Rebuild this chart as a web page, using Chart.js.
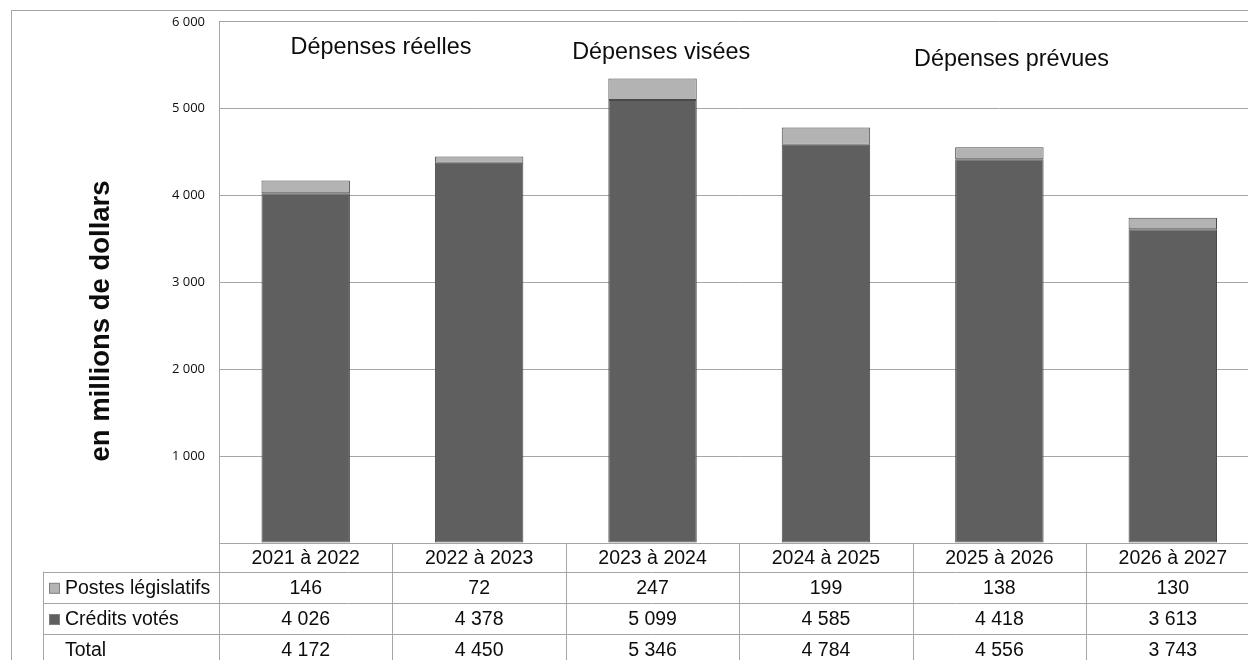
<!DOCTYPE html>
<html lang="fr">
<head>
<meta charset="utf-8">
<title>Dépenses</title>
<script src="https://cdn.jsdelivr.net/npm/chart.js@4"></script>
<style>
  html, body { margin: 0; padding: 0; background: #fff; overflow: hidden; }
  #wrap { position: relative; width: 1262px; height: 672px; }
</style>
</head>
<body>
<div id="wrap"><canvas id="chart"></canvas></div>
<script>
// --- data ---
const categories = ['2021 à 2022', '2022 à 2023', '2023 à 2024', '2024 à 2025', '2025 à 2026', '2026 à 2027'];
const postesLegislatifs = [146, 72, 247, 199, 138, 130];
const creditsVotes = [4026, 4378, 5099, 4585, 4418, 3613];
const totals = [4172, 4450, 5346, 4784, 4556, 3743];
const yTicks = [1000, 2000, 3000, 4000, 5000, 6000];
const periodLabels = ['Dépenses réelles', 'Dépenses visées', 'Dépenses prévues'];

// where the period labels sit (category units / data units)
const periodPos = [[0.434, 5631], [2.05, 5573], [4.07, 5493]];

const darkGrey = '#5f5f5f';
const lightGrey = '#b3b3b3';
const lineGrey = '#a6a6a6';
const textColor = '#0d0d0d';
const tableFont = '19.5px "Liberation Sans", Arial, sans-serif';

function fmt(n) {
    return String(n).replace(/\B(?=(\d{3})+(?!\d))/g, ' ');
}

// outer frame
const framePlugin = {
    id: 'frame',
    beforeDraw(chart) {
        const ctx = chart.ctx;
        ctx.save();
        ctx.strokeStyle = lineGrey;
        ctx.lineWidth = 1;
        ctx.strokeRect(11.5, 10.5, 1400, 1000);
        ctx.restore();
    }
};

// period labels, axis title and data table under the plot
const tablePlugin = {
    id: 'dataTable',
    afterDraw(chart) {
        const ctx = chart.ctx;
        const x = chart.scales.x;
        const y = chart.scales.y;
        const area = chart.chartArea;
        const colW = x.getPixelForValue(1) - x.getPixelForValue(0);
        const legendLeft = 43.5;
        const headerH = 28.7;
        const rowH = 31.2;
        const top = area.bottom;
        const rowTops = [top + headerH, top + headerH + rowH, top + headerH + 2 * rowH];
        const bottom = chart.height;

        ctx.save();

        // period labels
        ctx.fillStyle = textColor;
        ctx.font = '23.4px "Liberation Sans", Arial, sans-serif';
        ctx.textAlign = 'center';
        ctx.textBaseline = 'alphabetic';
        periodLabels.forEach((t, i) => {
            ctx.fillText(t, x.getPixelForValue(periodPos[i][0]), y.getPixelForValue(periodPos[i][1]));
        });

        // y axis title
        ctx.save();
        ctx.translate(101, 321);
        ctx.rotate(-Math.PI / 2);
        ctx.font = 'bold 27.5px "Liberation Sans", Arial, sans-serif';
        ctx.textBaseline = 'middle';
        ctx.fillText('en millions de dollars', 0, 0);
        ctx.restore();

        // grid of the table
        ctx.strokeStyle = lineGrey;
        ctx.lineWidth = 1;
        ctx.beginPath();
        ctx.moveTo(area.left, top + 0.5);
        ctx.lineTo(area.right, top + 0.5);
        rowTops.forEach(ry => {
            ctx.moveTo(legendLeft, Math.round(ry) + 0.5);
            ctx.lineTo(area.right, Math.round(ry) + 0.5);
        });
        ctx.moveTo(legendLeft, rowTops[0]);
        ctx.lineTo(legendLeft, bottom);
        for (let i = 0; i <= categories.length; i++) {
            const lx = Math.round(area.left + i * colW) + 0.5;
            ctx.moveTo(lx, top);
            ctx.lineTo(lx, bottom);
        }
        ctx.stroke();

        // header + values
        ctx.fillStyle = textColor;
        ctx.font = tableFont;
        ctx.textAlign = 'center';
        ctx.textBaseline = 'middle';
        const rows = [postesLegislatifs, creditsVotes, totals];
        categories.forEach((c, i) => {
            const cx = x.getPixelForValue(i);
            ctx.fillText(c, cx, top + headerH / 2 + 1);
            rows.forEach((r, j) => {
                ctx.fillText(fmt(r[i]), cx, rowTops[j] + rowH / 2 + 1);
            });
        });

        // legend column
        const names = ['Postes législatifs', 'Crédits votés', 'Total'];
        const swatches = [lightGrey, darkGrey, null];
        ctx.textAlign = 'left';
        names.forEach((n, j) => {
            const cy = rowTops[j] + rowH / 2 + 1;
            if (swatches[j]) {
                ctx.fillStyle = swatches[j];
                ctx.fillRect(49.5, cy - 5, 10, 10);
                ctx.strokeStyle = '#7f7f7f';
                ctx.strokeRect(49.5, cy - 5, 10, 10);
            }
            ctx.fillStyle = textColor;
            ctx.fillText(n, 65, cy);
        });

        ctx.restore();
    }
};

new Chart(document.getElementById('chart'), {
    type: 'bar',
    data: {
        labels: categories,
        datasets: [
            {
                label: 'Crédits votés',
                data: creditsVotes,
                backgroundColor: darkGrey,
                borderColor: '#4a4a4a',
                borderWidth: 1,
                borderSkipped: false
            },
            {
                label: 'Postes législatifs',
                data: postesLegislatifs,
                backgroundColor: lightGrey,
                borderColor: '#4a4a4a',
                borderWidth: 1,
                borderSkipped: false
            }
        ]
    },
    options: {
        responsive: true,
        maintainAspectRatio: false,
        animation: false,
        layout: { padding: { top: 20, right: 2.5, bottom: 129, left: 0 } },
        datasets: { bar: { categoryPercentage: 1, barPercentage: 0.51 } },
        plugins: {
            legend: { display: false },
            tooltip: { enabled: false }
        },
        scales: {
            x: {
                display: false,
                stacked: true
            },
            y: {
                stacked: true,
                min: 0,
                max: 6000,
                afterFit(scale) { scale.width = 219; },
                afterBuildTicks(scale) {
                    scale.ticks = [{ value: 0 }].concat(yTicks.map(v => ({ value: v })));
                },
                grid: { color: lineGrey, drawTicks: false },
                border: { display: true, color: lineGrey },
                ticks: {
                    padding: 14,
                    color: textColor,
                    font: { family: '"Open Sans", sans-serif', size: 13 },
                    callback: v => (v === 0 ? '' : fmt(v))
                }
            }
        }
    },
    plugins: [framePlugin, tablePlugin]
});
</script>
</body>
</html>
